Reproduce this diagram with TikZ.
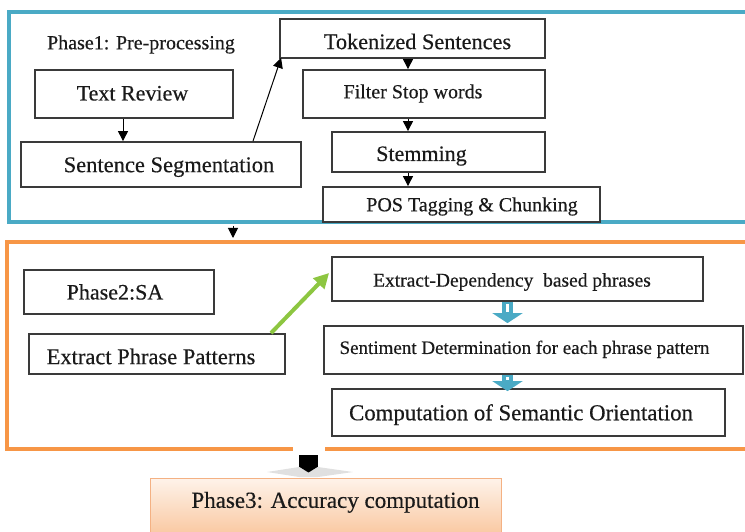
\documentclass[tikz,border=0pt]{standalone}
\usepackage{fontspec}
\setmainfont{Liberation Serif}[FakeBold=0.4]
\usetikzlibrary{arrows.meta,calc}
\definecolor{frameblue}{HTML}{4AAAC5}
\definecolor{frameorange}{HTML}{F79646}
\definecolor{boxline}{HTML}{3A3A3A}
\definecolor{txt}{HTML}{1A1A1A}
\definecolor{leafgreen}{HTML}{8DC641}
\definecolor{peachtop}{HTML}{FEF3EA}
\definecolor{peachbot}{HTML}{F9C49A}
\definecolor{peachline}{HTML}{F4B183}
% font size in px-sized points
\newcommand{\setfs}[1]{\rmfamily\fontsize{#1}{#1}\selectfont}
% text set off from the box centre by (#1 right, #2 up)
\newcommand{\placetxt}[3]{\hbox{\kern#1\raisebox{\dimexpr#2-0.34em\relax}[0pt][0pt]{#3}\kern-#1}}
\begin{document}
\begin{tikzpicture}[x=1pt,y=-1pt,
  box/.style={draw=boxline, line width=1.8pt, fill=white, inner sep=0pt, text=txt},
  frame/.style={line width=4pt, inner sep=0pt},
  arr/.style={draw=black, line width=1pt, -{Triangle[length=10pt,width=10pt]}},
  hollowarr/.style={draw=frameblue, line width=11pt, -{Triangle[length=10pt,width=30pt]}},
  greenarr/.style={draw=leafgreen, line width=4pt, -{Triangle[length=15pt,width=15pt]}}]
\useasboundingbox (0,0) rectangle (745,532);

% phase frames
\node[frame, draw=frameblue, minimum width=752pt, minimum height=210pt] (ph1) at (385,117) {};
\node[frame, draw=frameorange, minimum width=755pt, minimum height=207pt] (ph2) at (384.5,345.5) {};

% phase 1
\node[inner sep=0pt, text=txt, font=\setfs{20}] (lbl1) at (141,42.5) {\placetxt{0pt}{0pt}{Phase1: Pre-processing}};
\node[box, minimum width=198pt, minimum height=48pt, font=\setfs{22}] (tr) at (134,94) {\placetxt{-1.5pt}{1pt}{Text Review}};
\node[box, minimum width=280pt, minimum height=45pt, font=\setfs{22.5}] (ss) at (161,164.5) {\placetxt{8pt}{0pt}{Sentence Segmentation}};
\node[box, minimum width=265pt, minimum height=39pt, font=\setfs{22.3}] (ts) at (412.5,38.5) {\placetxt{5pt}{-3pt}{Tokenized Sentences}};
\node[box, minimum width=242pt, minimum height=48pt, font=\setfs{20}] (fs) at (424,94) {\placetxt{-11pt}{2.5pt}{Filter Stop words}};
\node[box, minimum width=213pt, minimum height=40pt, font=\setfs{22}] (st) at (438.5,152) {\placetxt{-17pt}{-1.5pt}{Stemming}};
\node[box, minimum width=277pt, minimum height=35pt, font=\setfs{20}] (pos) at (461.5,204.5) {\placetxt{10.5pt}{0pt}{POS Tagging \& Chunking}};

% phase 2
\node[box, minimum width=190pt, minimum height=44pt, font=\setfs{22}] (p2) at (119,292) {\placetxt{-4pt}{0pt}{Phase2:SA}};
\node[box, minimum width=256pt, minimum height=40pt, font=\setfs{22.5}] (epp) at (157,354) {\placetxt{-6pt}{-2.5pt}{Extract Phrase Patterns}};
\node[box, minimum width=371pt, minimum height=44pt, font=\setfs{19.5}] (edp) at (517.5,279) {\placetxt{-5.5pt}{-1pt}{Extract-Dependency\ \ based phrases}};
\node[box, minimum width=419pt, minimum height=48pt, font=\setfs{19}] (sd) at (533.5,350) {\placetxt{-9pt}{2.5pt}{Sentiment Determination for each phrase pattern}};
\node[box, minimum width=393pt, minimum height=47pt, font=\setfs{22.8}] (cso) at (528.5,412.5) {\placetxt{-7.5pt}{0pt}{Computation of Semantic Orientation}};

% phase 3
\node[draw=peachline, line width=1pt, top color=peachtop, bottom color=peachbot, inner sep=0pt,
      minimum width=351pt, minimum height=62pt, text=txt, font=\setfs{23}] (p3) at (325.5,509)
      {\placetxt{10pt}{9pt}{Phase3: Accuracy computation}};

% x positions of the vertical connectors
\coordinate (xa) at (123,0);
\coordinate (xs) at (253,0);
\coordinate (xt) at (408,0);
\coordinate (xf) at (233,0);
\coordinate (xg) at (271,0);
\coordinate (xb) at (507.5,0);
\coordinate (xk) at (308.5,0);

% phase 1 connectors
\draw[arr] (tr.south -| xa) -- (ss.north -| xa);
\draw[arr] (ss.north -| xs) -- ($(ts.south west)+(2,-1)$);
\draw[arr] (ts.south -| xt) -- (fs.north -| xt);
\draw[arr] (fs.south -| xt) -- (st.north -| xt);
\draw[arr] (st.south -| xt) -- (pos.north -| xt);
\draw[arr] ($(ph1.south -| xf)+(0,2)$) -- ($(ph2.north -| xf)+(0,-2)$);

% phase 2 connectors
\draw[greenarr] (epp.north -| xg) -- ($(edp.west)+(-2,-6)$);
\draw[hollowarr] (edp.south -| xb) -- ($(sd.north -| xb)+(0,-2)$);
\draw[white, line width=2.5pt] ($(edp.south -| xb)+(0,2)$) -- ($(sd.north -| xb)+(0,-13)$);
\draw[hollowarr] (sd.south -| xb) -- ($(cso.north -| xb)+(0,3)$);
\draw[white, line width=2.5pt] ($(sd.south -| xb)+(0,2)$) -- ($(cso.north -| xb)+(0,-8)$);

% block arrow into phase 3
\fill[white] (293,445) rectangle (325,456);
\fill[black!12] (267,472) -- (299,467) -- (318,467) -- (353,472) -- (318,477) -- (299,477) -- cycle;
\draw[black, line width=19pt, -{Triangle[length=6pt,width=19pt]}] ($(ph2.south -| xk)+(0,4)$) -- ($(p3.north -| xk)+(0,-5)$);
\end{tikzpicture}
\end{document}
